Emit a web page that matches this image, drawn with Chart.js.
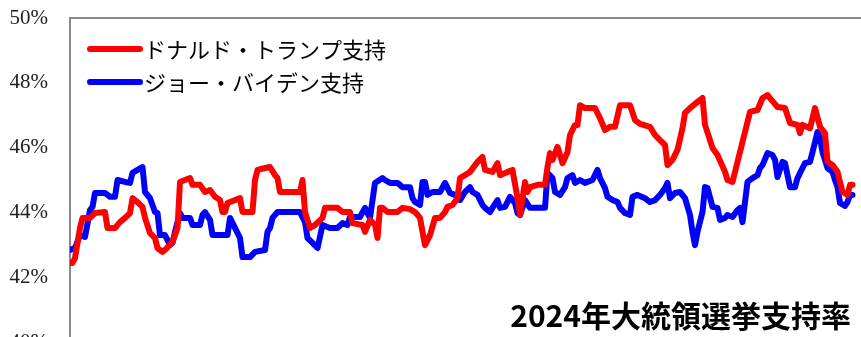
<!DOCTYPE html>
<html>
<head>
<meta charset="utf-8">
<script src="https://cdn.jsdelivr.net/npm/chart.js@4"></script>
<style>
  html, body { margin: 0; padding: 0; background: #fff; overflow: hidden; }
  #wrap { width: 861px; height: 360px; position: relative; }
</style>
</head>
<body>
<div id="wrap"><canvas id="poll"></canvas></div>
<script>
// series labels
var seriesNames = ['ドナルド・トランプ支持', 'ジョー・バイデン支持'];
var chartTitle = '2024年大統領選挙支持率';

// y axis ticks (percent)
var yTicks = [40, 42, 44, 46, 48, 50];

// day index -> support %
var trumpDays = [
  0,1,2,4,5,8,10,14,15,18,
  20,22,24,25,27,29,30,32,34,35,
  37,38,41,43,44,48,49,52,54,56,
  58,60,61,62,63,68,69,73,74,75,
  78,80,82,83,84,92,93,94,96,98,
  101,102,107,109,112,113,117,118,120,122,
  123,124,125,127,131,133,136,138,140,141,
  142,144,146,148,150,151,153,155,156,158,
  160,163,165,166,169,171,172,175,177,179,
  180,182,183,184,187,190,191,192,193,195,
  197,199,200,202,203,204,206,210,212,214,
  216,218,220,224,226,228,232,234,236,238,
  239,241,243,245,246,248,251,253,254,257,
  259,262,263,265,267,270,272,275,277,279,
  283,286,288,291,292,293,296,298,300,302,
  303,305,307,309,311,312,313
];
var trumpPct = [
  42.44,42.44,42.59,43.52,43.83,43.83,43.98,44.01,43.52,43.52,
  43.70,43.83,43.98,44.44,44.32,44.17,43.83,43.36,43.21,42.90,
  42.78,42.84,43.09,43.52,44.94,45.06,44.85,44.85,44.63,44.69,
  44.48,44.38,44.01,44.01,44.29,44.44,44.01,44.01,45.00,45.31,
  45.37,45.40,45.15,45.06,44.63,44.63,45.00,44.01,43.52,43.61,
  43.83,44.14,44.14,44.01,44.01,43.67,43.61,43.40,43.77,43.61,
  43.21,44.14,44.14,44.01,44.01,44.14,44.10,44.01,43.83,43.40,
  42.99,43.30,43.83,43.83,44.01,44.17,44.23,44.44,45.06,45.15,
  45.25,45.56,45.71,45.31,45.25,45.52,45.15,45.25,45.31,44.44,
  43.92,44.94,44.63,44.78,44.85,44.85,45.40,45.83,45.62,46.02,
  45.52,45.86,46.39,46.70,46.70,47.31,47.22,47.22,46.91,46.54,
  46.64,46.64,47.31,47.31,46.85,46.73,46.64,46.39,46.23,46.08,
  45.46,45.62,45.93,46.60,47.07,47.22,47.41,47.53,46.70,45.99,
  45.77,45.25,45.00,44.94,45.56,46.48,47.10,47.16,47.53,47.62,
  47.25,47.22,46.76,46.70,46.45,46.70,46.60,47.22,46.64,46.45,
  45.56,45.46,45.25,44.63,44.54,44.85,44.85
];

var bidenDays = [
  0,2,4,6,8,9,10,14,16,18,
  19,22,24,25,27,29,30,32,34,35,
  36,38,40,41,42,44,45,48,49,52,
  53,54,56,57,63,64,66,68,69,72,
  74,78,79,80,81,83,92,94,95,97,
  99,101,104,107,109,111,112,116,118,120,
  122,125,126,128,131,133,136,137,138,140,
  141,142,143,145,148,150,152,154,156,158,
  160,161,163,165,166,168,169,171,172,174,
  176,178,179,180,182,184,190,191,193,194,
  196,198,199,201,202,204,206,209,211,212,
  214,215,217,219,220,222,224,225,227,230,
  232,234,236,238,239,240,242,244,246,248,
  249,250,251,253,254,255,257,259,260,262,
  263,265,267,268,269,270,271,273,275,276,
  277,279,281,282,283,285,286,288,290,291,
  293,294,296,297,299,300,301,303,305,306,
  307,308,310,311,312,313
];
var bidenPct = [
  42.84,42.90,43.30,43.24,44.07,44.17,44.60,44.60,44.48,44.48,
  45.00,44.94,44.91,45.22,45.31,45.40,44.63,44.44,44.01,43.98,
  43.30,43.30,42.99,43.06,43.40,43.98,43.83,43.83,43.61,43.61,
  43.92,44.01,43.77,43.30,43.30,43.83,43.52,43.21,42.62,42.62,
  42.78,42.84,43.40,43.52,43.83,44.01,44.01,43.70,43.21,43.06,
  42.90,43.61,43.52,43.52,43.67,43.61,43.86,43.86,44.14,43.83,
  44.91,45.06,45.00,44.91,44.91,44.78,44.78,44.44,44.32,44.23,
  44.94,44.94,44.54,44.63,44.63,44.91,44.60,44.54,44.38,44.63,
  44.78,44.63,44.54,44.23,44.14,44.01,44.14,44.38,44.14,44.17,
  44.48,44.29,43.98,43.92,44.38,44.14,44.14,45.22,45.06,44.63,
  44.54,44.78,45.06,45.15,44.91,45.00,44.91,45.00,45.31,45.06,
  44.75,44.48,44.38,44.32,44.14,43.98,43.92,44.48,44.54,44.44,
  44.32,44.38,44.54,44.75,44.91,44.44,44.60,44.63,44.44,43.92,
  43.40,42.99,43.40,44.01,44.78,44.75,44.17,44.14,43.77,43.83,
  43.92,43.86,44.07,44.14,43.70,44.32,44.94,45.06,45.15,45.37,
  45.46,45.83,45.77,45.62,45.09,45.56,45.52,44.78,44.78,45.06,
  45.37,45.52,45.56,45.86,46.48,46.30,45.86,45.37,45.25,45.00,
  44.78,44.29,44.20,44.32,44.54,44.54
];

var seriesColors = ['#ff0000', '#0000ff'];

function toPoints(days, pct) {
  return days.map(function (d, i) { return { x: d, y: pct[i] }; });
}

// frame (top + left), legend inside plot, title at bottom right
var decorations = {
  id: 'decorations',
  beforeDatasetsDraw: function (chart) {
    var ctx = chart.ctx, a = chart.chartArea;
    ctx.save();
    ctx.strokeStyle = '#888';
    ctx.lineWidth = 2;
    ctx.beginPath();
    ctx.moveTo(a.left, a.bottom + 20);
    ctx.lineTo(a.left, a.top);
    ctx.lineTo(a.right + 5, a.top);
    ctx.stroke();
    ctx.restore();
  },
  afterDraw: function (chart) {
    var ctx = chart.ctx;
    ctx.save();
    chart.data.datasets.forEach(function (ds, i) {
      var y = 49 + i * 33;
      ctx.strokeStyle = ds.borderColor;
      ctx.lineWidth = 6;
      ctx.lineCap = 'round';
      ctx.beginPath();
      ctx.moveTo(90, y);
      ctx.lineTo(140, y);
      ctx.stroke();
      ctx.fillStyle = '#000';
      ctx.font = '22px "Noto Sans CJK JP"';
      ctx.textBaseline = 'middle';
      ctx.textAlign = 'left';
      ctx.fillText(ds.label, 144, y + 1);
    });
    ctx.font = 'bold 30px "Noto Sans CJK JP"';
    ctx.textAlign = 'right';
    ctx.textBaseline = 'alphabetic';
    ctx.fillStyle = '#000';
    ctx.fillText(chartTitle, 851, 327);
    ctx.restore();
  }
};

new Chart('poll', {
  type: 'line',
  data: {
    datasets: [
      { label: seriesNames[0], data: toPoints(trumpDays, trumpPct), borderColor: seriesColors[0] },
      { label: seriesNames[1], data: toPoints(bidenDays, bidenPct), borderColor: seriesColors[1] }
    ]
  },
  options: {
    responsive: true,
    maintainAspectRatio: false,
    animation: false,
    layout: { padding: { top: 18, bottom: 18, left: 0, right: 0 } },
    elements: {
      line: { borderWidth: 6, tension: 0, borderJoinStyle: 'round', borderCapStyle: 'round' },
      point: { radius: 0 }
    },
    scales: {
      x: { type: 'linear', min: 0, max: 316.4, display: false },
      y: {
        min: yTicks[0],
        max: yTicks[yTicks.length - 1],
        afterBuildTicks: function (s) { s.ticks = yTicks.map(function (v) { return { value: v }; }); },
        afterFit: function (s) { s.width = 70; s.paddingTop = 0; s.paddingBottom = 0; },
        grid: { display: false },
        border: { display: false },
        ticks: {
          padding: 14,
          color: '#222',
          font: { family: 'Liberation Serif', size: 21 },
          callback: function (v) { return v + '%'; }
        }
      }
    },
    plugins: {
      legend: { display: false },
      tooltip: { enabled: false }
    }
  },
  plugins: [decorations]
});
</script>
</body>
</html>
